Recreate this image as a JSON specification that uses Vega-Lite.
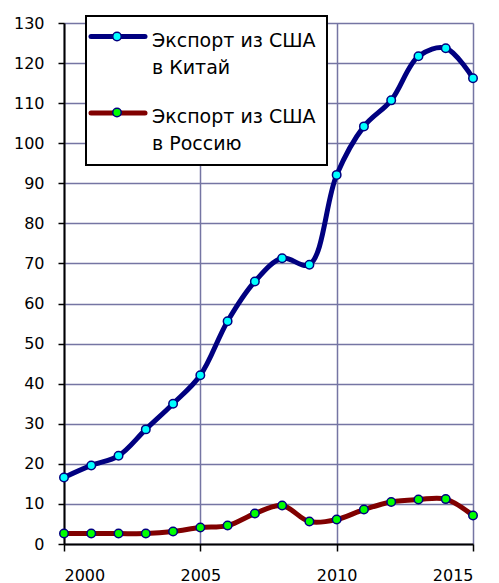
{
  "$schema": "https://vega.github.io/schema/vega-lite/v6.json",
  "width": 409,
  "height": 521,
  "autosize": {"type": "none"},
  "padding": {"left": 64, "top": 23, "right": 26, "bottom": 39},
  "background": "white",
  "config": {"view": {"stroke": null}, "font": "DejaVu Sans"},
  "data": {
    "values": [
      {"year": 2000, "value": 16.6, "series": "Экспорт из США\nв Китай"},
      {"year": 2001, "value": 19.6, "series": "Экспорт из США\nв Китай"},
      {"year": 2002, "value": 22.0, "series": "Экспорт из США\nв Китай"},
      {"year": 2003, "value": 28.6, "series": "Экспорт из США\nв Китай"},
      {"year": 2004, "value": 35.0, "series": "Экспорт из США\nв Китай"},
      {"year": 2005, "value": 42.1, "series": "Экспорт из США\nв Китай"},
      {"year": 2006, "value": 55.6, "series": "Экспорт из США\nв Китай"},
      {"year": 2007, "value": 65.5, "series": "Экспорт из США\nв Китай"},
      {"year": 2008, "value": 71.3, "series": "Экспорт из США\nв Китай"},
      {"year": 2009, "value": 69.7, "series": "Экспорт из США\nв Китай"},
      {"year": 2010, "value": 92.1, "series": "Экспорт из США\nв Китай"},
      {"year": 2011, "value": 104.2, "series": "Экспорт из США\nв Китай"},
      {"year": 2012, "value": 110.7, "series": "Экспорт из США\nв Китай"},
      {"year": 2013, "value": 121.7, "series": "Экспорт из США\nв Китай"},
      {"year": 2014, "value": 123.7, "series": "Экспорт из США\nв Китай"},
      {"year": 2015, "value": 116.2, "series": "Экспорт из США\nв Китай"},
      {"year": 2000, "value": 2.6, "series": "Экспорт из США\nв Россию"},
      {"year": 2001, "value": 2.6, "series": "Экспорт из США\nв Россию"},
      {"year": 2002, "value": 2.6, "series": "Экспорт из США\nв Россию"},
      {"year": 2003, "value": 2.6, "series": "Экспорт из США\nв Россию"},
      {"year": 2004, "value": 3.1, "series": "Экспорт из США\nв Россию"},
      {"year": 2005, "value": 4.1, "series": "Экспорт из США\nв Россию"},
      {"year": 2006, "value": 4.6, "series": "Экспорт из США\nв Россию"},
      {"year": 2007, "value": 7.6, "series": "Экспорт из США\nв Россию"},
      {"year": 2008, "value": 9.6, "series": "Экспорт из США\nв Россию"},
      {"year": 2009, "value": 5.6, "series": "Экспорт из США\nв Россию"},
      {"year": 2010, "value": 6.1, "series": "Экспорт из США\nв Россию"},
      {"year": 2011, "value": 8.6, "series": "Экспорт из США\nв Россию"},
      {"year": 2012, "value": 10.5, "series": "Экспорт из США\nв Россию"},
      {"year": 2013, "value": 11.1, "series": "Экспорт из США\nв Россию"},
      {"year": 2014, "value": 11.2, "series": "Экспорт из США\nв Россию"},
      {"year": 2015, "value": 7.1, "series": "Экспорт из США\nв Россию"}
    ]
  },
  "layer": [
    {
      "mark": {"type": "line", "interpolate": "catmull-rom", "strokeWidth": 5, "strokeCap": "round", "strokeJoin": "round"},
      "encoding": {
        "x": {
          "field": "year", "type": "quantitative",
          "scale": {"domain": [2000, 2015], "nice": false, "zero": false},
          "axis": {
            "title": null, "values": [2000, 2005, 2010, 2015], "format": "d",
            "grid": true, "gridColor": "#7575a3", "gridWidth": 1.5,
            "domainColor": "black", "domainWidth": 2,
            "tickColor": "black", "tickWidth": 1.5, "tickSize": 7,
            "labelFont": "DejaVu Sans", "labelFontSize": 16, "labelColor": "black", "labelPadding": 16
          }
        },
        "y": {
          "field": "value", "type": "quantitative",
          "scale": {"domain": [0, 130], "nice": false},
          "axis": {
            "title": null, "values": [0, 10, 20, 30, 40, 50, 60, 70, 80, 90, 100, 110, 120, 130],
            "grid": true, "gridColor": "#7575a3", "gridWidth": 1.5,
            "domainColor": "black", "domainWidth": 2,
            "tickColor": "black", "tickWidth": 1.5, "tickSize": 6,
            "labelFont": "DejaVu Sans", "labelFontSize": 16, "labelColor": "black", "labelPadding": 14
          }
        },
        "stroke": {
          "field": "series", "type": "nominal",
          "scale": {"range": ["#000080", "#800000"]},
          "legend": {
            "title": null, "orient": "none", "legendX": 22, "legendY": -7,
            "symbolType": "M-5.4,0H5.4", "symbolSize": 100, "symbolStrokeWidth": 5,
            "symbolOffset": 11.5,
            "labelFont": "DejaVu Sans", "labelFontSize": 19, "labelColor": "black", "labelLimit": 400,
            "labelExpr": "split(datum.label, '\\n')", "labelOffset": 24.5,
            "fillColor": "white", "strokeColor": "black", "padding": 11, "rowPadding": 24.5,
            "zindex": 1,
            "encode": {
              "labels": {"update": {"lineHeight": {"value": 27}, "dy": {"value": 4}}},
              "symbols": {"update": {"strokeCap": {"value": "round"}}},
              "legend": {"update": {"strokeWidth": {"value": 2}}}
            }
          }
        }
      }
    },
    {
      "mark": {"type": "circle", "size": 72, "stroke": "#000080", "strokeWidth": 1.5, "opacity": 1},
      "encoding": {
        "x": {"field": "year", "type": "quantitative"},
        "y": {"field": "value", "type": "quantitative"},
        "fill": {
          "field": "series", "type": "nominal",
          "scale": {"domain": ["Экспорт из США\nв Китай", "Экспорт из США\nв Россию"], "range": ["#00ffff", "#00ff00"]},
          "legend": {
            "title": null, "orient": "none", "legendX": 22, "legendY": -7,
            "symbolType": "circle", "symbolSize": 72, "symbolStrokeColor": "#000080", "symbolStrokeWidth": 1.5, "symbolOpacity": 1,
            "symbolOffset": 10.5,
            "labelFontSize": 19, "labelOpacity": 0, "labelExpr": "''",
            "padding": 11, "rowPadding": 56, "zindex": 2
          }
        }
      }
    }
  ]
}
